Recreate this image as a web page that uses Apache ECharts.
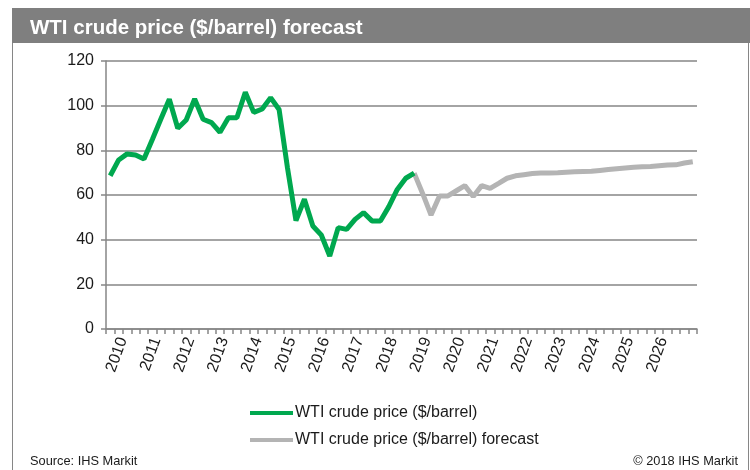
<!DOCTYPE html>
<html>
<head>
<meta charset="utf-8">
<script src="https://cdn.jsdelivr.net/npm/echarts@6/dist/echarts.min.js"></script>
<style>
  html, body { margin: 0; padding: 0; background: #fff; }
  #chart { width: 750px; height: 470px; }
</style>
</head>
<body>
<div id="chart"></div>
<script>
// 年份（每年 4 个季度），数据从 2010Q1 到 2027Q2
const years = ["2010", "2011", "2012", "2013", "2014", "2015", "2016", "2017", "2018",
  "2019", "2020", "2021", "2022", "2023", "2024", "2025", "2026"];
const quarterCount = 70;

// 实际价格（2010Q1 起）
const actualPrices = [68.6, 75.7, 78.4, 77.9, 76.1, 85, 94, 102.9, 89.9, 93.6,
  103, 93.9, 92.4, 88.1, 94.6, 94.6, 106, 97, 98.5, 103.6,
  98.3, 72, 48.5, 58.1, 46.1, 42.1, 32.7, 45.4, 44.6, 49.1,
  52.1, 48.4, 48.4, 54.8, 62.5, 67.5, 69.8];

// 预测价格（从第 36 个季度开始，与实际价格衔接）
const forecastStart = 36;
const forecastPrices = [69.8, 60.7, 51, 59.6, 59.6, 61.9, 64.2, 59.3, 64.2, 63,
  65.2, 67.5, 68.6, 69.1, 69.6, 69.8, 69.9, 70.0, 70.2, 70.4,
  70.5, 70.6, 71.0, 71.4, 71.8, 72.1, 72.4, 72.6, 72.8, 73.1,
  73.4, 73.5, 74.3, 74.9];

const yTicks = [0, 20, 40, 60, 80, 100, 120];

const seriesNames = ["WTI crude price ($/barrel)", "WTI crude price ($/barrel) forecast"];

const axisGray = "#868686";
const textColor = "#1a1a1a";
const fontFamily = "'Liberation Sans', Arial, sans-serif";

// 季度在数值轴上的位置：取季度中点
const actualData = actualPrices.map((v, i) => [i + 0.5, v]);
const forecastData = forecastPrices.map((v, i) => [forecastStart + i + 0.5, v]);

const chart = echarts.init(document.getElementById("chart"));

const option = {
  backgroundColor: "#fff",
  animation: false,
  textStyle: { fontFamily: fontFamily },
  title: [
    {
      text: "WTI crude price ($/barrel) forecast",
      left: 25,
      top: 13,
      textStyle: { color: "#fff", fontSize: 20.5, fontWeight: "bold", fontFamily: fontFamily }
    },
    {
      text: "Source: IHS Markit",
      left: 25,
      top: 450,
      textStyle: { color: textColor, fontSize: 12.8, fontWeight: "normal", fontFamily: fontFamily }
    },
    {
      text: "© 2018 IHS Markit",
      right: 7,
      top: 450,
      textStyle: { color: textColor, fontSize: 12.8, fontWeight: "normal", fontFamily: fontFamily }
    }
  ],
  graphic: [
    {
      type: "rect",
      z: -1,
      shape: { x: 12, y: 8, width: 738, height: 35 },
      style: { fill: "#7f7f7f" }
    },
    {
      type: "line",
      shape: { x1: 12.5, y1: 43, x2: 12.5, y2: 470 },
      style: { stroke: axisGray, lineWidth: 1 }
    },
    {
      type: "line",
      shape: { x1: 748.5, y1: 43, x2: 748.5, y2: 470 },
      style: { stroke: axisGray, lineWidth: 1 }
    }
  ],
  legend: {
    orient: "vertical",
    left: 245,
    top: 400,
    itemWidth: 43,
    itemHeight: 4,
    itemGap: 11,
    icon: "rect",
    textStyle: { color: textColor, fontSize: 16, fontFamily: fontFamily, padding: [0, 0, 0, -3] },
    data: seriesNames
  },
  grid: {
    left: 106,
    right: 53,
    top: 61,
    bottom: 141,
    containLabel: false
  },
  xAxis: {
    type: "value",
    min: 0,
    max: quarterCount,
    interval: 1,
    splitLine: { show: false },
    axisLine: { show: true, lineStyle: { color: axisGray, width: 1.5 } },
    axisTick: { show: true, length: 5, lineStyle: { color: axisGray, width: 1.5 } },
    axisLabel: {
      rotate: 70,
      margin: 9,
      color: textColor,
      fontSize: 16,
      fontFamily: fontFamily,
      showMinLabel: true,
      showMaxLabel: true,
      formatter: v => {
        // 年份标签放在每年的中间
        if (v % 4 !== 2) return "";
        const idx = (v - 2) / 4;
        return years[idx] || "";
      }
    }
  },
  yAxis: {
    type: "value",
    min: yTicks[0],
    max: yTicks[yTicks.length - 1],
    interval: 20,
    axisLine: { show: true, lineStyle: { color: axisGray, width: 1.5 } },
    axisTick: { show: true, length: 5, lineStyle: { color: axisGray, width: 1.5 } },
    splitLine: { show: true, lineStyle: { color: axisGray, width: 1.5 } },
    axisLabel: {
      margin: 12,
      color: textColor,
      fontSize: 16,
      fontFamily: fontFamily
    }
  },
  series: [
    {
      name: seriesNames[0],
      type: "line",
      data: actualData,
      symbol: "none",
      z: 3,
      lineStyle: { color: "#00a84f", width: 5 },
      itemStyle: { color: "#00a84f" }
    },
    {
      name: seriesNames[1],
      type: "line",
      data: forecastData,
      symbol: "none",
      z: 2,
      lineStyle: { color: "#b4b4b4", width: 5 },
      itemStyle: { color: "#b4b4b4" }
    }
  ]
};

chart.setOption(option);
</script>
</body>
</html>
